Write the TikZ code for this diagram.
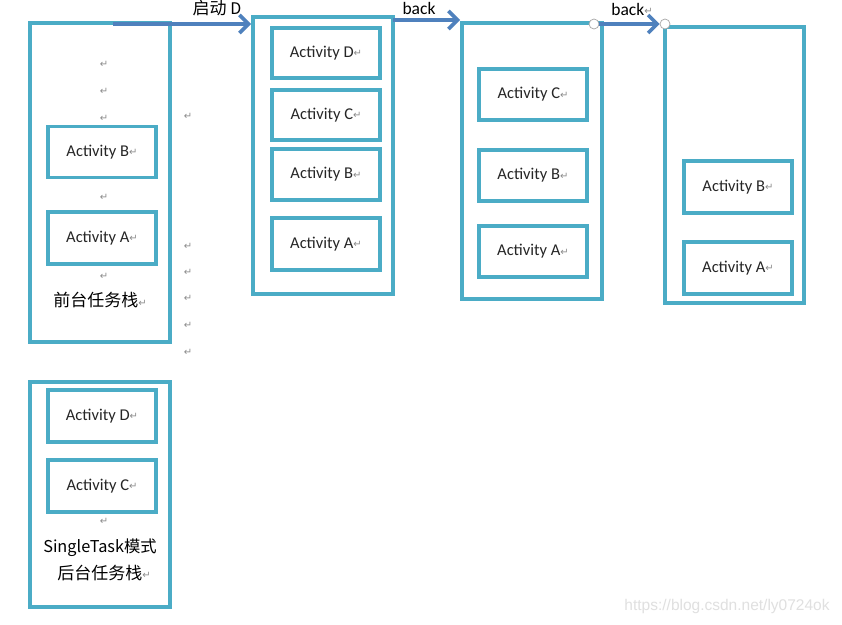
\documentclass[tikz,border=0pt]{standalone}
\usepackage{fontspec}
\setmainfont{Carlito}
\newfontfamily\cjk{Noto Sans CJK SC}
\newfontfamily\dv{DejaVu Sans}
\newfontfamily\wm{Liberation Sans}
\usetikzlibrary{arrows.meta}
\definecolor{boxc}{HTML}{4BACC6}
\definecolor{arrc}{HTML}{4F81BD}
\definecolor{retc}{HTML}{8C8C8C}
\newcommand{\ret}{{\dv\fontsize{10}{10}\selectfont\color{retc}\raisebox{0.5pt}{↵}}}
\tikzset{
  stackbox/.style={draw=boxc, line width=3.3pt, fill=white, inner sep=0pt},
  actbox/.style={draw=boxc, line width=3.3pt, fill=white, minimum width=108pt, inner sep=0pt, font=\fontsize{16.5}{16.5}\selectfont, text=black!85},
  retmark/.style={inner sep=0pt, font=\dv\fontsize{10}{10}\selectfont, text=retc},
  lbl/.style={inner sep=0pt, font=\fontsize{17.5}{17.5}\selectfont},
  cjklbl/.style={inner sep=0pt, font=\cjk\fontsize{17}{17}\selectfont},
  arr/.style={draw=arrc, line width=3.6pt, -{Straight Barb[length=9pt,width=18pt,line width=3.6pt]}},
  knob/.style={circle, draw=gray!70, fill=white, line width=0.7pt, minimum size=10pt, inner sep=0pt}
}
\begin{document}
\begin{tikzpicture}[x=1pt,y=-1pt]
\useasboundingbox (0,0) rectangle (842,624);
\fill[white] (0,0) rectangle (842,624);
% stack 1 (front)
\node[stackbox, minimum width=140pt, minimum height=319pt] (s1) at (100,182.5) {};
\node[actbox, minimum height=51pt] (s1b) at (102,152) {Activity B\ret};
\node[actbox, minimum height=52pt] (s1a) at (102,238) {Activity A\ret};
\foreach \y [count=\i] in {64,91,118,197,276} \node[retmark] (r1\i) at (104,\y) {↵};
\node[cjklbl] (t1) at (100,300) {前台任务栈\ret};
\foreach \y [count=\i] in {116,246,272,298,325,352} \node[retmark] (rr\i) at (188,\y) {↵};
% stack 1b (back)
\node[stackbox, minimum width=140pt, minimum height=225pt] (s0) at (100,494.5) {};
\node[actbox, minimum height=52pt] (s0d) at (102,416) {Activity D\ret};
\node[actbox, minimum height=52pt] (s0c) at (102,486) {Activity C\ret};
\node[retmark] (r01) at (104,521) {↵};
\node[cjklbl, font=\cjk\fontsize{16.3}{16.3}\selectfont] (t01) at (100,548) {SingleTask模式};
\node[cjklbl] (t02) at (104,573) {后台任务栈\ret};
% stack 2
\node[stackbox, minimum width=140pt, minimum height=277pt] (s2) at (323,155.5) {};
\node[actbox, minimum height=50pt] (s2d) at (326,53) {Activity D\ret};
\node[actbox, minimum height=50pt] (s2c) at (326,115) {Activity C\ret};
\node[actbox, minimum height=51pt] (s2b) at (326,174.5) {Activity B\ret};
\node[actbox, minimum height=52pt] (s2a) at (326,244) {Activity A\ret};
% stack 3
\node[stackbox, minimum width=140pt, minimum height=276pt] (s3) at (532,161) {};
\node[actbox, minimum height=51pt] (s3c) at (533,94.5) {Activity C\ret};
\node[actbox, minimum height=51pt] (s3b) at (533,175.5) {Activity B\ret};
\node[actbox, minimum height=51pt] (s3a) at (533,251.5) {Activity A\ret};
% stack 4
\node[stackbox, minimum width=139pt, minimum height=276pt] (s4) at (734.5,165) {};
\node[actbox, minimum height=52pt] (s4b) at (738,187) {Activity B\ret};
\node[actbox, minimum height=52pt] (s4a) at (738,268) {Activity A\ret};
% arrows
\coordinate (a1s) at (113,24);
\coordinate (a1e) at (251,24);
\draw[arr] (a1s) -- (a1e);
\node[cjklbl] (l1) at (217,8) {启动 {\fontsize{16}{16}\selectfont D}};
\coordinate (a2s) at (393,20);
\coordinate (a2e) at (460,20);
\draw[arr] (a2s) -- (a2e);
\node[lbl] (l2) at (419,8) {back};
\node[knob] (k1) at (594,24) {};
\node[knob] (k2) at (665,24) {};
\draw[arr] (k1) -- (k2);
\node[lbl] (l3) at (632,9) {back\ret};
% watermark
\node[inner sep=0pt, font=\wm\fontsize{15.5}{15.5}\selectfont, text=black!12] (wm) at (727,606) {https://blog.csdn.net/ly0724ok};
\end{tikzpicture}
\end{document}
